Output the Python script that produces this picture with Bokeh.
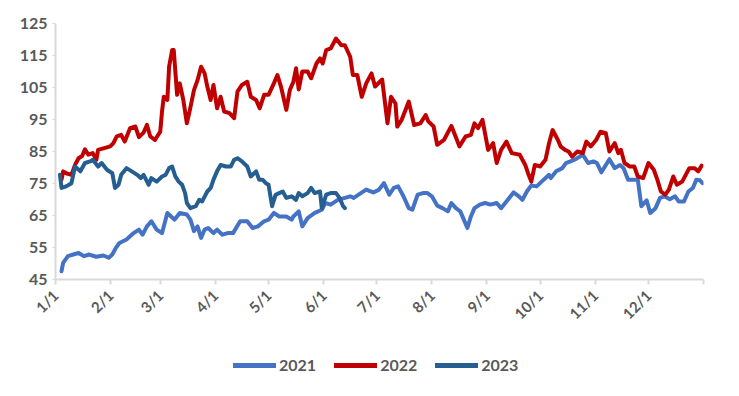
from bokeh.plotting import figure
from bokeh.layouts import column
from bokeh.models import FixedTicker, Range1d, Legend, LegendItem
from bokeh.embed import file_html
from bokeh.resources import INLINE
import math

# Day of year (0 = Jan 1) and values
days_2021 = [3.4, 4.3, 7, 10, 13, 16, 19, 23, 27, 30, 32, 34, 36, 40, 44, 47, 49, 51.5, 54, 57, 60, 63, 67, 70, 74, 76, 78, 80, 82, 84, 86, 89, 91, 94, 97, 100, 104, 108, 111, 114, 117.5, 120, 123, 126, 130, 133, 134, 137, 139, 142, 146, 150, 152, 155, 159, 163, 166, 168, 172, 175, 179, 182, 185, 188, 190.5, 193, 196, 199, 201, 204, 207, 209.5, 212, 215, 218, 221, 223, 225.5, 228, 230, 232, 234, 236, 239, 242, 245, 248.5, 251, 254, 258, 261, 263, 265.5, 268, 271, 275, 278, 279, 282, 285.5, 287.5, 290, 293, 297, 300, 303, 305, 307.5, 310, 312, 315, 318, 320, 322.5, 325.5, 328, 330, 333, 335, 338, 340.5, 343, 346, 349, 351, 354, 356.5, 359, 361, 363, 364.5]
vals_2021 = [47.6, 50.2, 52.3, 52.8, 53.3, 52.3, 52.8, 52.1, 52.5, 51.8, 52.8, 54.9, 56.4, 57.5, 59.5, 60.6, 59.0, 61.6, 63.2, 60.6, 59.5, 65.8, 63.7, 65.8, 65.3, 63.7, 60.1, 61.6, 58.0, 60.6, 61.1, 59.5, 60.6, 59.0, 59.5, 59.5, 63.2, 63.2, 61.1, 61.6, 63.2, 63.7, 65.8, 64.7, 64.7, 63.7, 64.7, 66.3, 61.6, 64.2, 65.8, 66.8, 68.9, 68.4, 69.9, 70.5, 71.0, 70.5, 72.0, 73.1, 72.2, 73.0, 75.1, 71.5, 73.6, 74.1, 71.0, 67.3, 66.8, 71.5, 72.0, 72.0, 71.0, 68.1, 67.3, 66.3, 68.9, 67.3, 66.3, 63.7, 61.1, 64.7, 67.3, 68.4, 68.9, 68.4, 68.9, 67.3, 69.4, 72.2, 71.0, 69.9, 72.5, 74.4, 74.1, 76.2, 77.7, 76.7, 78.8, 79.8, 81.4, 81.9, 82.6, 84.0, 81.4, 81.9, 81.4, 78.5, 80.8, 82.6, 79.8, 80.8, 79.8, 76.2, 76.2, 76.2, 67.9, 69.7, 65.8, 67.3, 70.5, 71.0, 70.1, 71.0, 69.4, 69.4, 72.5, 73.6, 76.2, 76.0, 75.1]

days_2022 = [3.4, 4.3, 6, 9, 11, 13, 15, 16.6, 18.5, 21, 23, 24, 27, 30.8, 32.6, 34.5, 37, 39, 42, 45, 47, 49.6, 51.5, 53.4, 56, 59, 60, 61, 63, 64, 65.7, 66.6, 68.5, 70, 72, 74, 75.7, 78, 80, 82, 84, 85.5, 87.4, 89, 91, 93, 95, 98, 100.6, 102.5, 105, 108, 110, 113, 115, 117.5, 120, 123, 125, 127, 130, 132, 134, 135.5, 137, 139, 142, 144, 147, 149, 150.5, 152.5, 155, 158, 161, 163, 166, 167.5, 170, 172.5, 175, 178, 180, 184, 187, 189, 191.5, 192.5, 195, 199, 202, 205.5, 208.5, 210, 213, 215, 218.8, 223, 225.7, 227.5, 231, 234, 236, 238, 240.5, 243.7, 246.5, 248.5, 251, 254, 257, 261.5, 264.6, 266.5, 268, 270, 273, 276, 278, 280, 283, 284.5, 287, 289, 291, 294, 297, 299, 301.5, 304.5, 307, 310, 312, 315, 317, 318.5, 320.5, 323.5, 326, 328, 331, 334, 337, 339, 341, 343.5, 345.5, 348, 350, 353, 355, 357, 360, 362, 364]
vals_2022 = [76.2, 78.8, 78.2, 77.7, 80.8, 82.9, 83.6, 85.7, 84.0, 84.5, 82.4, 85.5, 86.0, 86.6, 87.6, 89.7, 90.2, 88.1, 92.3, 92.8, 89.5, 90.9, 93.3, 89.7, 88.6, 91.2, 97.5, 102.1, 101.1, 111.5, 116.7, 116.7, 102.7, 106.3, 101.1, 93.8, 98.0, 104.2, 107.3, 111.5, 109.4, 105.3, 101.1, 105.8, 98.5, 102.1, 97.5, 97.0, 95.4, 103.7, 105.8, 106.8, 102.1, 101.1, 98.5, 102.7, 102.7, 106.3, 108.9, 105.3, 98.0, 104.2, 106.8, 111.0, 104.4, 110.0, 110.0, 107.9, 112.5, 114.1, 112.5, 116.7, 117.2, 120.3, 118.2, 118.2, 114.6, 108.9, 108.9, 102.1, 106.3, 109.4, 105.3, 107.5, 93.8, 102.1, 100.0, 92.8, 94.9, 100.6, 93.3, 93.8, 96.4, 94.4, 92.8, 87.1, 88.6, 93.0, 89.2, 86.6, 89.7, 90.2, 93.8, 92.3, 94.9, 85.5, 87.6, 81.4, 85.5, 88.1, 84.5, 84.0, 80.8, 77.7, 75.6, 80.8, 80.3, 82.4, 87.6, 91.7, 88.6, 86.6, 85.5, 85.0, 83.4, 85.0, 84.5, 88.1, 86.6, 88.6, 91.2, 90.7, 85.0, 87.6, 84.5, 85.5, 81.4, 80.3, 80.3, 77.2, 76.7, 81.4, 79.3, 76.2, 72.5, 71.5, 73.1, 77.2, 74.6, 75.6, 77.7, 79.8, 79.8, 78.8, 80.6]

days_2023 = [2.5, 3.4, 6, 9, 11, 14, 16.6, 19.5, 21, 24, 26, 29, 32, 33.5, 35.5, 37, 40, 43, 46, 48, 49.6, 52.5, 54, 57, 60, 62, 64, 65.7, 67.5, 69.4, 71.3, 73, 74, 76, 79, 81, 82.6, 85.5, 87.4, 89, 91, 93, 96, 98.7, 100.6, 102.5, 105, 108, 110, 113, 114.7, 116.6, 118.5, 120, 122, 124, 126, 128, 130, 133, 135.5, 137, 139, 142, 144, 146, 149, 150, 152.5, 155, 158, 160, 162, 163]
vals_2023 = [77.7, 73.6, 74.1, 75.1, 80.3, 78.8, 81.4, 81.9, 82.4, 80.3, 81.4, 79.3, 78.2, 73.6, 74.6, 77.7, 79.8, 78.8, 77.7, 76.7, 77.7, 74.6, 76.7, 75.6, 77.2, 77.7, 79.8, 80.3, 77.2, 75.6, 74.6, 72.0, 68.9, 67.3, 67.9, 69.9, 69.4, 72.5, 73.6, 76.2, 78.8, 80.8, 80.3, 80.3, 82.4, 82.9, 81.9, 80.3, 77.2, 78.8, 76.2, 76.2, 75.1, 74.6, 67.9, 71.5, 72.0, 72.5, 70.5, 71.0, 69.9, 72.0, 71.0, 72.0, 73.6, 72.0, 72.5, 67.3, 71.5, 72.0, 72.0, 70.5, 67.9, 67.3]

series_names = ["2021", "2022", "2023"]
series_colors = ["#4472C4", "#C00000", "#255E91"]
all_days = [days_2021, days_2022, days_2023]
all_vals = [vals_2021, vals_2022, vals_2023]

month_ticks = [0, 31, 59, 90, 120, 151, 181, 212, 243, 273, 304, 334, 365]
month_labels = ["1/1", "2/1", "3/1", "4/1", "5/1", "6/1", "7/1", "8/1", "9/1", "10/1", "11/1", "12/1", ""]
y_ticks = [45, 55, 65, 75, 85, 95, 105, 115, 125]

label_color = "#595959"
axis_color = "#D9D9D9"

p = figure(width=723, height=331, output_backend="svg", toolbar_location=None,
           x_range=Range1d(0, 365), y_range=Range1d(45, 125))
p.min_border_left = 55
p.min_border_right = 20
p.min_border_top = 23
p.min_border_bottom = 50
p.outline_line_color = None
p.xgrid.grid_line_color = None
p.ygrid.grid_line_color = None

for d, v, c in zip(all_days, all_vals, series_colors):
    p.line(d, v, line_color=c, line_width=4, line_join="round", line_cap="round")

p.xaxis.ticker = FixedTicker(ticks=month_ticks)
p.xaxis.major_label_overrides = {t: l for t, l in zip(month_ticks, month_labels)}
p.xaxis.major_label_orientation = math.pi / 4
p.xaxis.axis_line_color = axis_color
p.xaxis.axis_line_width = 2
p.xaxis.major_tick_line_color = axis_color
p.xaxis.major_tick_line_width = 2
p.xaxis.major_tick_out = 5
p.xaxis.major_tick_in = 0
p.xaxis.minor_tick_line_color = None
p.xaxis.major_label_text_font = "Lato"
p.xaxis.major_label_text_font_style = "bold"
p.xaxis.major_label_text_font_size = "15px"
p.xaxis.major_label_text_color = label_color
p.xaxis.major_label_standoff = 8

p.yaxis.ticker = FixedTicker(ticks=y_ticks)
p.yaxis.axis_line_color = axis_color
p.yaxis.axis_line_width = 2
p.yaxis.major_tick_line_color = axis_color
p.yaxis.major_tick_out = 3
p.yaxis.major_tick_in = 0
p.yaxis.minor_tick_line_color = None
p.yaxis.major_label_text_font = "Lato"
p.yaxis.major_label_text_font_style = "bold"
p.yaxis.major_label_text_font_size = "16px"
p.yaxis.major_label_text_color = label_color
p.yaxis.major_label_standoff = 5

# Legend strip below the chart (its lines lie outside the visible range)
lg = figure(width=723, height=50, output_backend="svg", toolbar_location=None,
            x_range=Range1d(1000, 1001), y_range=Range1d(1000, 1001),
            x_axis_location=None, y_axis_location=None)
lg.min_border = 0
lg.outline_line_color = None
lg.xgrid.grid_line_color = None
lg.ygrid.grid_line_color = None
items = []
for n, d, v, c in zip(series_names, all_days, all_vals, series_colors):
    r = lg.line(d, v, line_color=c, line_width=5, line_cap="round")
    items.append(LegendItem(label=n, renderers=[r]))

legend = Legend(items=items, orientation="horizontal", location=(178, 7))
legend.border_line_color = None
legend.background_fill_alpha = 0
legend.glyph_width = 43
legend.glyph_height = 16
legend.label_standoff = 3
legend.spacing = 18
legend.label_text_font = "Lato"
legend.label_text_font_style = "bold"
legend.label_text_font_size = "16px"
legend.label_text_color = label_color
legend.margin = 0
legend.padding = 4
lg.add_layout(legend, "center")

layout = column(p, lg, spacing=0)
open("out.html", "w").write(file_html(layout, INLINE))
